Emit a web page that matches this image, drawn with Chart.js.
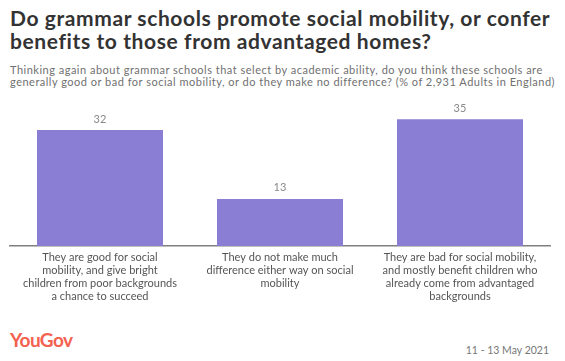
<!DOCTYPE html>
<html>
<head>
<meta charset="utf-8">
<script src="https://cdn.jsdelivr.net/npm/chart.js@4"></script>
<style>
    body { margin: 0; width: 565px; height: 361px; background: #fff; position: relative; overflow: hidden; font-family: Lato, 'Open Sans', sans-serif; }
    .title { position: absolute; left: 10px; top: 6px; width: 555px; font-size: 21px; font-weight: 700; line-height: 23px; color: #333; letter-spacing: 0.6px; white-space: nowrap; }
    .subtitle { position: absolute; left: 10px; top: 64px; width: 555px; font-size: 11px; line-height: 12px; color: #707070; letter-spacing: 0.5px; white-space: nowrap; }
    .chart-wrap { position: absolute; left: 0; top: 95px; width: 565px; height: 220px; }
    .logo { position: absolute; left: 10px; top: 328px; font-size: 19px; font-weight: 700; color: #f46150; letter-spacing: -0.6px; }
    .date { position: absolute; right: 16px; top: 344px; font-size: 10.5px; color: #777; }
</style>
</head>
<body>
<div class="title">Do grammar schools promote social mobility, or confer<br>benefits to those from advantaged homes?</div>
<div class="subtitle">Thinking again about grammar schools that select by academic ability, do you think these schools are<br>generally good or bad for social mobility, or do they make no difference? (% of 2,931 Adults in England)</div>
<div class="chart-wrap"><canvas id="barChart"></canvas></div>
<div class="logo">YouGov</div>
<div class="date">11 - 13 May 2021</div>

<script>
// ==================== DATA ====================
const categories = [
    ['They are good for social', 'mobility, and give bright', 'children from poor backgrounds', 'a chance to succeed'],
    ['They do not make much', 'difference either way on social', 'mobility'],
    ['They are bad for social mobility,', 'and mostly benefit children who', 'already come from advantaged', 'backgrounds']
];
const values = [32, 13, 35];

// ==================== VALUE LABELS ====================
const valueLabels = {
    id: 'valueLabels',
    afterDatasetsDraw(chart) {
        const ctx = chart.ctx;
        const meta = chart.getDatasetMeta(0);
        ctx.save();
        ctx.font = '11px Lato, sans-serif';
        ctx.fillStyle = '#8a8a8a';
        ctx.textAlign = 'center';
        ctx.textBaseline = 'middle';
        meta.data.forEach((bar, i) => {
            ctx.fillText(values[i], bar.x, bar.y - 11);
        });
        ctx.restore();
    }
};

// ==================== CHART ====================
const ctx = document.getElementById('barChart');
new Chart(ctx.getContext('2d'), {
    type: 'bar',
    data: {
        labels: categories,
        datasets: [{
            data: values,
            backgroundColor: '#8a7dd4',
            borderWidth: 0,
            barPercentage: 0.7,
            categoryPercentage: 1
        }]
    },
    options: {
        responsive: true,
        maintainAspectRatio: false,
        animation: false,
        layout: { padding: { left: 10, right: 15, top: 6, bottom: 0 } },
        plugins: {
            legend: { display: false },
            tooltip: { enabled: false }
        },
        scales: {
            x: {
                grid: { display: false, drawTicks: false },
                border: { display: true, color: '#808080', width: 1.5 },
                ticks: { padding: 5, maxRotation: 0, autoSkip: false, color: '#555', font: { family: 'Lato', size: 11, lineHeight: 1.18 } },
                afterFit: scale => { scale.height = 69; }
            },
            y: {
                display: false,
                min: 0,
                max: 40
            }
        }
    },
    plugins: [valueLabels]
});
</script>
</body>
</html>
